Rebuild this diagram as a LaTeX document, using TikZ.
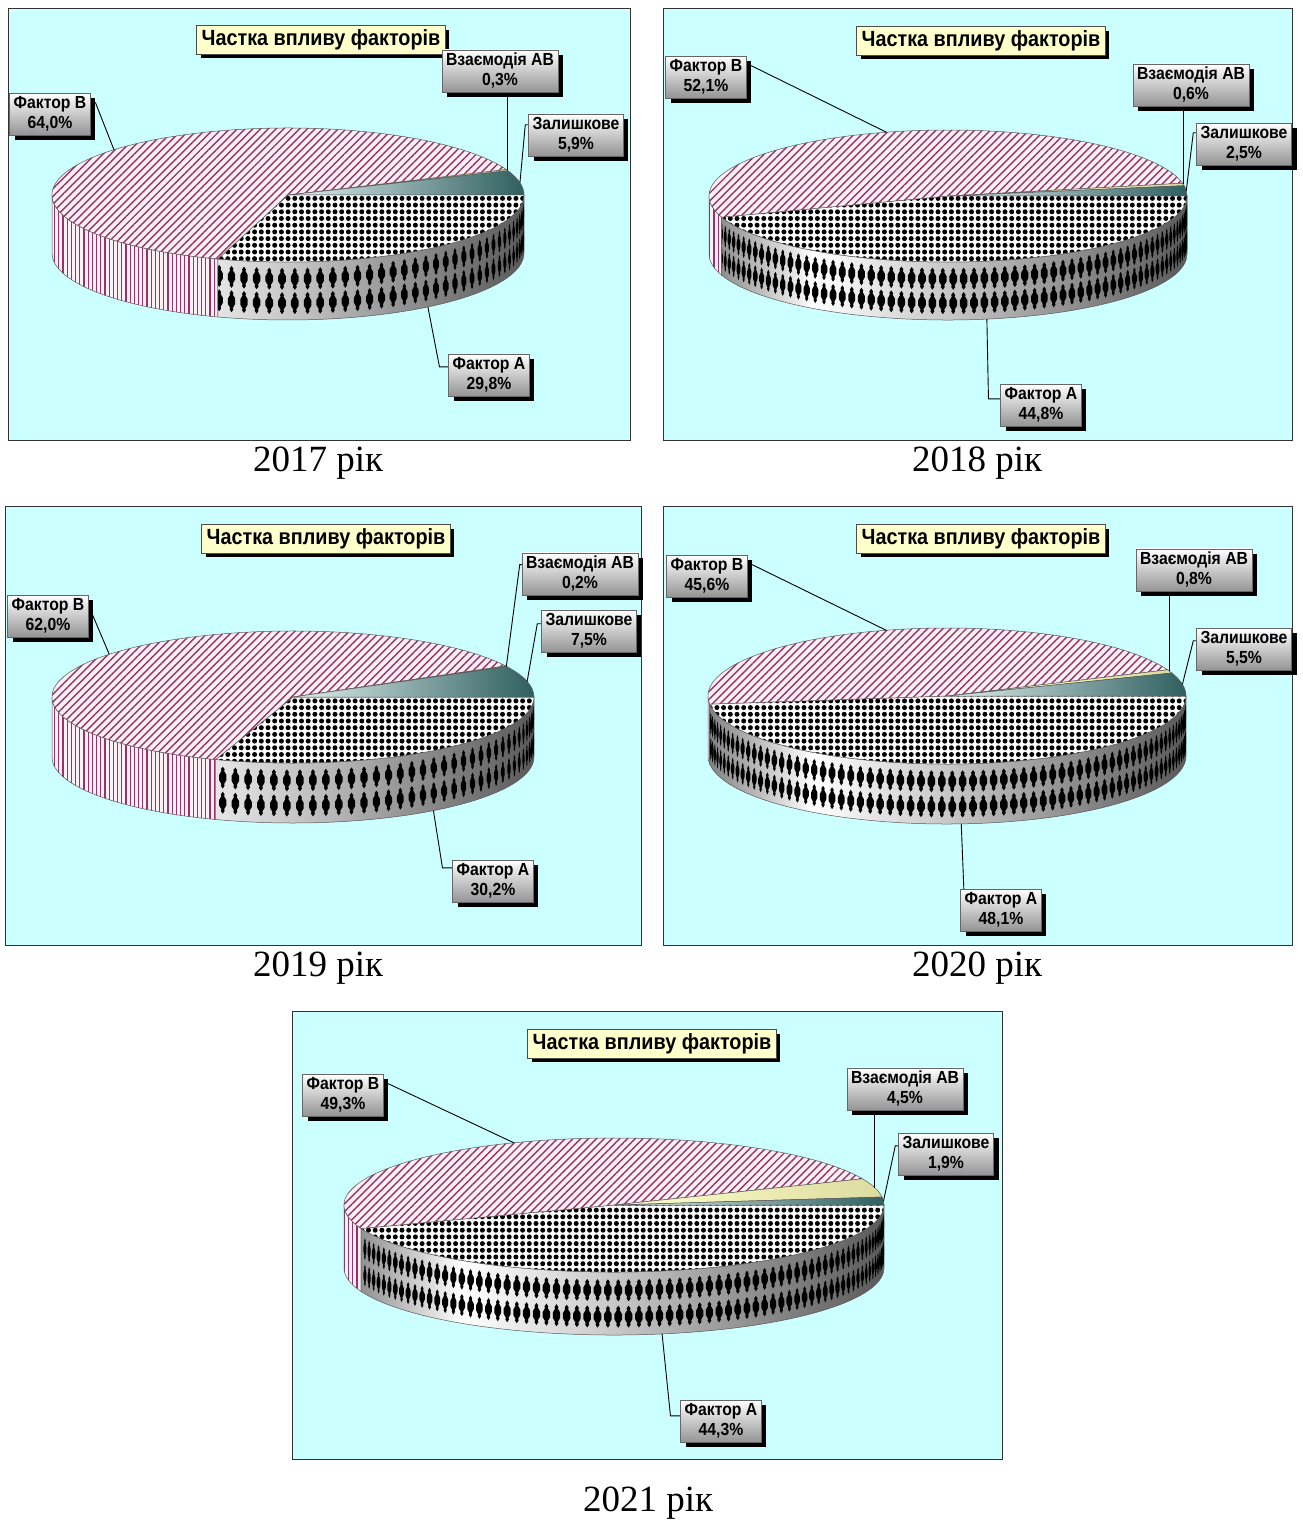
\documentclass[tikz,border=0pt]{standalone}
\usepackage{fontspec}
\setmainfont{Liberation Serif}
\newfontfamily\sansfam[FakeStretch=0.9]{Liberation Sans}
\usetikzlibrary{patterns.meta,shadows}
\definecolor{bgcyan}{HTML}{CCFFFF}
\definecolor{pinkc}{HTML}{993366}
\definecolor{pinkbg}{HTML}{FBF0F5}
\definecolor{titley}{HTML}{FFFFCC}
\definecolor{abdark}{HTML}{DCDCA0}
\definecolor{tealdark}{HTML}{2F5F5F}
\definecolor{teallight}{HTML}{E2F0F0}
\pgfdeclarelayer{laypie}
\pgfdeclarelayer{layline}
\pgfsetlayers{laypie,layline,main}
\pgfdeclarehorizontalshading{cylshade}{100bp}{color(0bp)=(black!50); color(25bp)=(black!50); color(36bp)=(white); color(52bp)=(black!25); color(75bp)=(black!65); color(100bp)=(black!65)}

\newcommand{\spindle}[3]{%
  \fill[black,shift={(#1,#2)},xscale=#3] (0,-11) -- (2,-8.2) -- (1.4,-6.6) -- (3.8,-2.6) -- (3.8,2.6) -- (1.4,6.6) -- (2,8.2) -- (0,11) -- (-2,8.2) -- (-1.4,6.6) -- (-3.8,2.6) -- (-3.8,-2.6) -- (-1.4,-6.6) -- (-2,-8.2) -- cycle;}

\def\spStep{3.1}
\newcommand{\drawpie}[9]{%
  \pgfmathsetmacro\angA{3.6*#7}%
  \pgfmathsetmacro\angB{\angA+3.6*#8}%
  \pgfmathsetmacro\angC{\angB+3.6*#9}%
  \pgfmathsetmacro\angE{min(\angA,180)}%
  \pgfmathtruncatemacro\nSp{(\angE-\spStep/2)/\spStep}%
  \pgfmathsetmacro\midA{\angA/2}%
  \pgfmathsetmacro\midB{(\angA+\angB)/2}%
  \pgfmathsetmacro\midC{(\angB+\angC)/2}%
  \pgfmathsetmacro\midD{(\angC+360)/2}%
  \path[pinkside,pieedge] (#2,#3) ++(\angA:#4 and #5) arc[start angle=\angA,end angle=180,x radius=#4,y radius=#5] -- ++(0,#6) arc[start angle=180,end angle=\angA,x radius=#4,y radius=#5] -- cycle;
  \begin{scope}
    \clip (#2,#3) ++(0:#4 and #5) arc[start angle=0,end angle=\angE,x radius=#4,y radius=#5] -- ++(0,#6) arc[start angle=\angE,end angle=0,x radius=#4,y radius=#5] -- cycle;
    \shade[shading=cylshade] (#2-#4,#3-#5) rectangle (#2+#4,#3+#5+#6);
    \foreach \k in {0,...,\nSp}{%
      \pgfmathsetmacro\spAng{\spStep/2+\spStep*\k}%
      \pgfmathsetmacro\spX{#2+#4*cos(\spAng)}%
      \pgfmathsetmacro\spY{#3+#5*sin(\spAng)}%
      \pgfmathsetmacro\spW{max(sin(\spAng),0.3)}%
      \spindle{\spX}{\spY+0.29*#6}{\spW}%
      \spindle{\spX}{\spY+0.71*#6}{\spW}%
    }%
  \end{scope}
  \draw[pieedge] (#2,#3) ++(0:#4 and #5) arc[start angle=0,end angle=\angE,x radius=#4,y radius=#5] -- ++(0,#6) arc[start angle=\angE,end angle=0,x radius=#4,y radius=#5] -- cycle;
  \path[dotstop,pieedge] (#2,#3) -- ++(0:#4 and #5) arc[start angle=0,end angle=\angA,x radius=#4,y radius=#5] -- cycle;
  \path[pinktop,pieedge] (#2,#3) -- ++(\angA:#4 and #5) arc[start angle=\angA,end angle=\angB,x radius=#4,y radius=#5] -- cycle;
  \path[abtop,pieedge] (#2,#3) -- ++(\angB:#4 and #5) arc[start angle=\angB,end angle=\angC,x radius=#4,y radius=#5] -- cycle;
  \path[ztop,pieedge] (#2,#3) -- ++(\angC:#4 and #5) arc[start angle=\angC,end angle=360,x radius=#4,y radius=#5] -- cycle;
  \path (#2,#3) ++(\midA:#4 and #5) ++(0,#6) coordinate (#1A);
  \path (#2,#3) ++(\midB:#4 and #5) coordinate (#1B);
  \path (#2,#3) ++(\midC:#4 and #5) coordinate (#1AB);
  \path (#2,#3) ++(\midD:#4 and #5) coordinate (#1Z);
}

\begin{document}
\begin{tikzpicture}[x=1pt,y=-1pt,
  panel/.style={fill=bgcyan,draw=black!80,line width=0.8pt},
  pieedge/.style={draw=black!65,line width=0.5pt},
  pinktop/.style={preaction={fill=pinkbg},pattern={Lines[angle=45,distance=5.5pt,line width=1.4pt]},pattern color=pinkc},
  pinkside/.style={preaction={fill=pinkbg},pattern={Lines[angle=90,distance=4.2pt,line width=1.1pt]},pattern color=pinkc},
  dotstop/.style={preaction={fill=white},pattern={Dots[radius=2.5pt,distance=6.7pt]},pattern color=black},
  abtop/.style={left color=titley,right color=abdark},
  ztop/.style={left color=teallight,right color=tealdark},
  leader/.style={draw=black,line width=0.9pt},
  ttl/.style={fill=titley,draw=black!70,line width=0.6pt,font=\sansfam\bfseries\fontsize{22}{26}\selectfont,inner xsep=5pt,inner ysep=4pt,drop shadow={shadow xshift=4pt,shadow yshift=-4pt,opacity=1,fill=black}},
  lbl/.style={draw=black!60,line width=0.5pt,top color=white,middle color=white,bottom color=black!42,font=\sansfam\bfseries\fontsize{17.5}{20}\selectfont,align=center,inner xsep=4pt,inner ysep=3.5pt,drop shadow={shadow xshift=5pt,shadow yshift=-5pt,opacity=1,fill=black}},
  yearcap/.style={font=\fontsize{37}{40}\selectfont}]
\useasboundingbox (0,0) rectangle (1302,1525);
\begin{pgfonlayer}{laypie}
\fill[white] (0,0) rectangle (1302,1525);
\draw[panel] (8,8) rectangle (630,440);
\draw[panel] (663,8) rectangle (1292,440);
\draw[panel] (5,506) rectangle (641,945);
\draw[panel] (663,506) rectangle (1292,945);
\draw[panel] (292,1011) rectangle (1002,1459);
\def\spStep{3.1}
\drawpie{pa}{288}{195}{236}{67}{58}{29.8}{64.0}{0.3}
\drawpie{pc}{293}{697}{241}{66}{60}{30.2}{62.0}{0.2}
\def\spStep{2.5}
\drawpie{pb}{948}{196}{239}{66}{58}{44.8}{52.1}{0.6}
\drawpie{pd}{947}{696}{239}{68}{60}{48.1}{45.6}{0.8}
\def\spStep{2.2}
\drawpie{pe}{614}{1205}{270}{67}{63}{44.3}{49.3}{4.5}
\end{pgfonlayer}

% 2017
\node[ttl] (t1) at (321,40) {Частка впливу факторів};
\node[lbl] (b1) at (50,114) {Фактор B\\64,0\%};
\node[lbl] (ab1) at (500,71) {Взаємодія AB\\0,3\%};
\node[lbl] (z1) at (576,135) {Залишкове\\5,9\%};
\node[lbl] (a1) at (489,375) {Фактор A\\29,8\%};
\node[yearcap] (c1) at (318,463) {2017 рік};
% 2018
\node[ttl] (t2) at (981,41) {Частка впливу факторів};
\node[lbl] (b2) at (706,77) {Фактор B\\52,1\%};
\node[lbl] (ab2) at (1191,85) {Взаємодія AB\\0,6\%};
\node[lbl] (z2) at (1244,144) {Залишкове\\2,5\%};
\node[lbl] (a2) at (1041,405) {Фактор A\\44,8\%};
\node[yearcap] (c2) at (977,463) {2018 рік};
% 2019
\node[ttl] (t3) at (326,539) {Частка впливу факторів};
\node[lbl] (b3) at (48,616) {Фактор B\\62,0\%};
\node[lbl] (ab3) at (580,574) {Взаємодія AB\\0,2\%};
\node[lbl] (z3) at (589,631) {Залишкове\\7,5\%};
\node[lbl] (a3) at (493,881) {Фактор A\\30,2\%};
\node[yearcap] (c3) at (318,968) {2019 рік};
% 2020
\node[ttl] (t4) at (981,539) {Частка впливу факторів};
\node[lbl] (b4) at (707,576) {Фактор B\\45,6\%};
\node[lbl] (ab4) at (1194,570) {Взаємодія AB\\0,8\%};
\node[lbl] (z4) at (1244,649) {Залишкове\\5,5\%};
\node[lbl] (a4) at (1001,910) {Фактор A\\48,1\%};
\node[yearcap] (c4) at (977,968) {2020 рік};
% 2021
\node[ttl] (t5) at (652,1044) {Частка впливу факторів};
\node[lbl] (b5) at (343,1095) {Фактор B\\49,3\%};
\node[lbl] (ab5) at (905,1089) {Взаємодія AB\\4,5\%};
\node[lbl] (z5) at (946,1154) {Залишкове\\1,9\%};
\node[lbl] (a5) at (721,1421) {Фактор A\\44,3\%};
\node[yearcap] (c5) at (648,1503) {2021 рік};

\begin{pgfonlayer}{layline}
% 2017
\draw[leader] ([yshift=-10pt]b1.north east) -- ++(5,0) -- (paB);
\draw[leader] (paAB |- ab1.south) -- (paAB);
\draw[leader] ([yshift=-11pt]z1.north west) -- ++(-3,0) -- (paZ);
\draw[leader] (paA) -- ([xshift=-9pt,yshift=-13pt]a1.north west) -- ([yshift=-13pt]a1.north west);
% 2018
\draw[leader] ([yshift=-10pt]b2.north east) -- ++(5,0) -- (pbB);
\draw[leader] (pbAB |- ab2.south) -- (pbAB);
\draw[leader] ([yshift=-10pt]z2.north west) -- ++(-3,0) -- (pbZ);
\draw[leader] (pbA) -- ([xshift=-12pt,yshift=-15pt]a2.north west) -- ([yshift=-15pt]a2.north west);
% 2019
\draw[leader] ([yshift=-20pt]b3.north east) -- ++(4,0) -- (pcB);
\draw[leader] ([yshift=-12pt]ab3.north west) -- ++(-2,0) -- (pcAB);
\draw[leader] ([yshift=-14pt]z3.north west) -- ++(-4,0) -- (pcZ);
\draw[leader] (pcA) -- ([xshift=-10pt,yshift=-8pt]a3.north west) -- ([yshift=-8pt]a3.north west);
% 2020
\draw[leader] ([yshift=-10pt]b4.north east) -- ++(5,0) -- (pdB);
\draw[leader] (pdAB |- ab4.south) -- (pdAB);
\draw[leader] ([yshift=-13pt]z4.north west) -- ++(-3,0) -- (pdZ);
\draw[leader] (pdA) -- ([xshift=4pt,yshift=-16pt]a4.north west) -- ([yshift=-16pt]a4.north west);
% 2021
\draw[leader] ([yshift=-10pt]b5.north east) -- ++(5,0) -- (peB);
\draw[leader] (peAB |- ab5.south) -- (peAB);
\draw[leader] ([yshift=-13pt]z5.north west) -- ++(-3,0) -- (peZ);
\draw[leader] (peA) -- ([xshift=-10pt,yshift=-16pt]a5.north west) -- ([yshift=-16pt]a5.north west);
\end{pgfonlayer}
\end{tikzpicture}
\end{document}
